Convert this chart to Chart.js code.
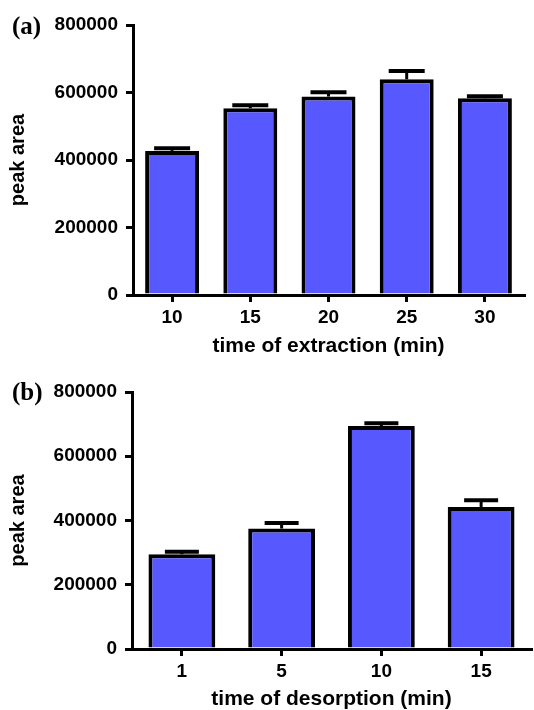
<!DOCTYPE html>
<html lang="en">
<head>
    <meta charset="UTF-8" />
    <title>Peak area vs extraction / desorption time</title>
    <script src="https://cdn.jsdelivr.net/npm/chart.js"></script>
    <style>
        body { margin: 0; background: #fff; width: 534px; height: 710px; overflow: hidden; }
        .panel { position: absolute; left: 0; width: 534px; }
        #panelA { top: 0; height: 360px; }
        #panelB { top: 360px; height: 350px; }
        .tag {
            position: absolute;
            left: 12px;
            font-family: 'Liberation Serif', 'Times New Roman', serif;
            font-weight: bold;
            font-size: 25px;
            line-height: 25px;
            color: #000;
        }
    </style>
</head>
<body>
    <div class="panel" id="panelA">
        <canvas id="chartA" width="534" height="360"></canvas>
        <div class="tag" style="top: 13px;">(a)</div>
    </div>
    <div class="panel" id="panelB">
        <canvas id="chartB" width="534" height="350"></canvas>
        <div class="tag" style="top: 19px;">(b)</div>
    </div>

    <script>
        // panel (a): extraction time
        const extractionTimes = ['10', '15', '20', '25', '30'];
        const extractionArea = [427000, 553000, 588000, 639000, 583000];
        const extractionErr = [8000, 9000, 13000, 25000, 6000];

        // panel (b): desorption time
        const desorptionTimes = ['1', '5', '10', '15'];
        const desorptionArea = [295000, 375000, 694000, 442000];
        const desorptionErr = [8000, 17000, 9000, 21000];

        const yTicks = [0, 200000, 400000, 600000, 800000];

        const FONT = "'Liberation Sans', Arial, sans-serif";
        const BAR_COLOR = '#5858ff';

        // draws the upper half of each error bar from the y scale
        const errorBars = {
            id: 'errorBars',
            afterDatasetsDraw(chart, args, opts) {
                const ctx = chart.ctx;
                const yScale = chart.scales.y;
                const meta = chart.getDatasetMeta(0);
                const values = chart.data.datasets[0].data;
                ctx.save();
                ctx.strokeStyle = '#000';
                meta.data.forEach((bar, i) => {
                    const yTop = yScale.getPixelForValue(values[i] + opts.errors[i]);
                    const yBar = yScale.getPixelForValue(values[i]);
                    ctx.lineWidth = 3;
                    ctx.beginPath();
                    ctx.moveTo(bar.x, yBar);
                    ctx.lineTo(bar.x, yTop);
                    ctx.stroke();
                    ctx.lineWidth = 4;
                    ctx.beginPath();
                    ctx.moveTo(bar.x - opts.cap / 2, yTop);
                    ctx.lineTo(bar.x + opts.cap / 2, yTop);
                    ctx.stroke();
                });
                ctx.restore();
            }
        };

        function makeChart(id, labels, values, errors, cfg) {
            return new Chart(document.getElementById(id), {
                type: 'bar',
                data: {
                    labels: labels,
                    datasets: [{
                        data: values,
                        backgroundColor: BAR_COLOR,
                        borderColor: '#000',
                        borderWidth: 4,
                        borderSkipped: 'bottom',
                        categoryPercentage: 1,
                        barPercentage: cfg.barPct
                    }]
                },
                options: {
                    responsive: false,
                    animation: false,
                    layout: { padding: { top: cfg.padTop, right: cfg.padRight, left: 0, bottom: 0 } },
                    plugins: {
                        legend: { display: false },
                        tooltip: { enabled: false },
                        errorBars: { errors: errors, cap: cfg.cap }
                    },
                    scales: {
                        x: {
                            offset: true,
                            grid: { display: true, offset: false, drawOnChartArea: false, drawTicks: true, tickLength: 7, color: '#000', lineWidth: 3 },
                            border: { display: true, color: '#000', width: 3 },
                            ticks: { color: '#000', padding: 4, font: { family: FONT, size: 19, weight: 'bold' } },
                            title: {
                                display: true,
                                text: cfg.xTitle,
                                color: '#000',
                                font: { family: FONT, size: 21, weight: 'bold', lineHeight: 1 },
                                padding: { top: 0, bottom: cfg.titlePadBottom }
                            },
                            afterFit(scale) { scale.height = cfg.xHeight; }
                        },
                        y: {
                            min: 0,
                            max: 800000,
                            afterBuildTicks(scale) { scale.ticks = yTicks.map(v => ({ value: v })); },
                            grid: { display: true, drawOnChartArea: false, drawTicks: true, tickLength: 7, color: '#000', lineWidth: 3 },
                            border: { display: true, color: '#000', width: 3 },
                            ticks: {
                                color: '#000',
                                padding: 8,
                                font: { family: FONT, size: 19, weight: 'bold' },
                                callback: v => String(v)
                            },
                            title: {
                                display: true,
                                text: 'peak area',
                                color: '#000',
                                font: { family: FONT, size: 20, weight: 'bold', lineHeight: 1 },
                                padding: { top: 8, bottom: 0 }
                            },
                            afterFit(scale) { scale.width = cfg.yWidth; }
                        }
                    }
                },
                plugins: [errorBars]
            });
        }

        makeChart('chartA', extractionTimes, extractionArea, extractionErr, {
            barPct: 0.69, cap: 36, padTop: 25, padRight: 10, xHeight: 65, yWidth: 133,
            xTitle: 'time of extraction (min)', titlePadBottom: 3
        });

        makeChart('chartB', desorptionTimes, desorptionArea, desorptionErr, {
            barPct: 0.67, cap: 34, padTop: 32, padRight: 3, xHeight: 61, yWidth: 132,
            xTitle: 'time of desorption (min)', titlePadBottom: 0
        });
    </script>
</body>
</html>
